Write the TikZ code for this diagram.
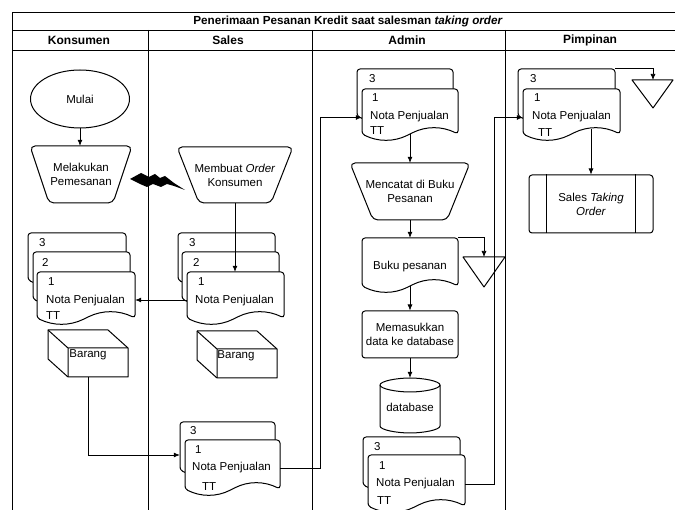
\documentclass[tikz,border=0pt]{standalone}
\usepackage{fontspec}
\setmainfont{Liberation Sans}
\usetikzlibrary{arrows.meta,shapes.geometric,calc}

\tikzset{
  shapesty/.style={draw=black, line width=1pt, fill=white, line join=round},
  docsty/.style={shapesty, rounded corners=3pt},
  arr/.style={draw=black, line width=0.7pt, -{Latex[length=6pt,width=5pt]}},
  lane/.style={draw=black, line width=0.8pt},
  txt/.style={inner sep=0pt, anchor=west},
  hdr/.style={inner sep=0pt, font=\fontsize{12}{14}\selectfont\bfseries},
}

% document shape: name, x0, ytop, x1, ybase
\newcommand\docu[5]{%
  \path[docsty] (#2,#5) -- (#2,#3) -- (#4,#3) -- (#4,#5)
    .. controls ({#4-(#4-#2)/6},{#5-8}) and ({(#2+#4)/2+(#4-#2)/6},{#5-8}) .. ({(#2+#4)/2},#5)
    .. controls ({(#2+#4)/2-(#4-#2)/6},{#5+8}) and ({#2+(#4-#2)/6},{#5+8}) .. (#2,#5) -- cycle;
  \node[inner sep=0pt, minimum width={(#4-#2)*1pt}, minimum height={(#5-#3)*1pt}] (#1) at ({(#2+#4)/2},{(#3+#5)/2}) {};
}
% manual operation: name, cx, ytop, half top, half bottom, ybottom, text
\newcommand\trapz[7]{%
  \path[shapesty, rounded corners=5pt] ({#2-#4},#3) -- ({#2+#4},#3) -- ({#2+#5},#6) -- ({#2-#5},#6) -- cycle;
  \node[inner sep=0pt, align=center, minimum width={2*#5*1pt}, minimum height={(#6-#3)*1pt}] (#1) at (#2,{(#3+#6)/2}) {#7};
}
% cube: name, x0, y0, text x offset
\newcommand\cube[4]{%
  \path[shapesty] (#2,#3) -- ({#2+60},#3) -- ({#2+80},{#3+18}) -- ({#2+80},{#3+47}) -- ({#2+20},{#3+47}) -- (#2,{#3+29}) -- cycle;
  \draw[line width=1pt, line join=round] (#2,#3) -- ({#2+20},{#3+18}) -- ({#2+80},{#3+18}) ({#2+20},{#3+18}) -- ({#2+20},{#3+47});
  \node[inner sep=0pt, minimum width=80pt, minimum height=47pt] (#1) at ({#2+40},{#3+23.5}) {};
  \node[inner sep=0pt] (#1t) at ({#2+#4},{#3+25}) {Barang};
}

\begin{document}
\begin{tikzpicture}[x=1pt, y=-1pt, font=\fontsize{11.5}{14}\selectfont]
\useasboundingbox (0,0) rectangle (675,510);
\fill[white] (0,0) rectangle (675,510);

% ---------- Konsumen ----------
\node[shapesty, ellipse, minimum width=99pt, minimum height=58pt, inner sep=0pt] (mulai) at (80,99) {Mulai};
\trapz{mel}{81}{146}{51}{32}{203}{Melakukan\\Pemesanan}
\fill[black] (130,179) -- (141,173) -- (149,177) -- (155,174) -- (160,178) -- (165,176) -- (174,183) -- (185,190)
  -- (174,186) -- (167,184) -- (161,187) -- (153,184) -- (147,187) -- (140,184) -- cycle;

\docu{k3}{28}{233}{126}{280}
\node[txt] (k3a) at (39,243) {3};
\docu{k2}{33}{252}{130}{299}
\node[txt] (k2a) at (42,262) {2};
\docu{k1}{37}{272}{135}{318}
\node[txt] (k1a) at (48,282) {1};
\node[txt] (k1b) at (46,301) {Nota Penjualan};
\node[txt] (k1c) at (46,316) {TT};
\cube{kb}{48}{330}{40}

% ---------- Sales ----------
\trapz{mem}{235}{147}{58}{36}{203}{Membuat \textit{Order}\\Konsumen}
\docu{s3}{178}{233}{275}{280}
\node[txt] (s3a) at (189,243) {3};
\docu{s2}{182}{252}{279}{299}
\node[txt] (s2a) at (193,262) {2};
\docu{s1}{187}{272}{284}{318}
\node[txt] (s1a) at (198,282) {1};
\node[txt] (s1b) at (195,301) {Nota Penjualan};
\cube{sb}{197}{331}{39}

\docu{sb3}{180}{422}{275}{470}
\node[txt] (sb3a) at (190,431) {3};
\docu{sb1}{185}{440}{280}{489}
\node[txt] (sb1a) at (195,450) {1};
\node[txt] (sb1b) at (192,468) {Nota Penjualan};
\node[txt] (sb1c) at (202,487) {TT};

% ---------- Admin ----------
\docu{a3}{357}{69}{453}{116}
\node[txt] (a3a) at (369,79) {3};
\docu{a1}{362}{89}{458}{134}
\node[txt] (a1a) at (372,98) {1};
\node[txt] (a1b) at (370,117) {Nota Penjualan};
\node[txt] (a1c) at (370,131) {TT};
\trapz{mc}{410}{163}{60}{37}{220}{Mencatat di Buku\\Pesanan}
\docu{bp}{362}{238}{458}{286}
\node[inner sep=0pt] (bpt) at (410,267) {Buku pesanan};
\path[shapesty] (463,257) -- (505,257) -- (484,287) -- cycle;
\coordinate (t1) at (484,257);
\node[shapesty, rounded corners=3pt, minimum width=96pt, minimum height=47pt, inner sep=0pt, align=center] (mm) at (410,334.5) {Memasukkan\\data ke database};
\path[shapesty] (380,385) -- (380,426)
  .. controls (380,429.87) and (396.57,433) .. (410,433)
  .. controls (423.43,433) and (440,429.87) .. (440,426) -- (440,385)
  .. controls (440,381.13) and (423.43,378) .. (410,378)
  .. controls (396.57,378) and (380,381.13) .. (380,385) -- cycle;
\draw[line width=1pt] (380,385) .. controls (380,388.87) and (396.57,392) .. (410,392)
  .. controls (423.43,392) and (440,388.87) .. (440,385);
\node[inner sep=0pt, minimum width=60pt, minimum height=55pt] (db) at (410,405.5) {};
\node[inner sep=0pt] (dbt) at (410,407) {database};
\docu{ab3}{363}{437}{460}{485}
\node[txt] (ab3a) at (374,447) {3};
\docu{ab1}{368}{455}{465}{506}
\node[txt] (ab1a) at (379,466) {1};
\node[txt] (ab1b) at (376,484) {Nota Penjualan};
\node[txt] (ab1c) at (377,501) {TT};

% ---------- Pimpinan ----------
\docu{p3}{518}{69}{615}{116}
\node[txt] (p3a) at (530,79) {3};
\docu{p1}{523}{89}{620}{134}
\node[txt] (p1a) at (534,98) {1};
\node[txt] (p1b) at (532,117) {Nota Penjualan};
\node[txt] (p1c) at (538,133) {TT};
\path[shapesty] (632,80) -- (673,80) -- (653,108) -- cycle;
\coordinate (t2) at (653,80);
\node[shapesty, rounded corners=3pt, minimum width=124pt, minimum height=58pt, inner sep=0pt, align=center] (sto) at (591,204) {Sales \textit{Taking}\\\textit{Order}};
\draw[line width=1pt] ([xshift=18pt]sto.north west) -- ([xshift=18pt]sto.south west);
\draw[line width=1pt] ([xshift=-18pt]sto.north east) -- ([xshift=-18pt]sto.south east);

% ---------- frame ----------
\draw[lane] (12,510) -- (12,12) -- (675,12);
\draw[lane] (12,30) -- (675,30);
\draw[lane] (12,50) -- (675,50);
\draw[lane] (148,30) -- (148,510);
\draw[lane] (312,30) -- (312,510);
\draw[lane] (505,30) -- (505,510);
\node[hdr, font=\fontsize{11.7}{14}\selectfont\bfseries] (title) at (348,21) {Penerimaan Pesanan Kredit saat salesman \textit{taking order}};
\node[hdr] (h1) at (79,40) {Konsumen};
\node[hdr] (h2) at (228,40) {Sales};
\node[hdr] (h3) at (407,40) {Admin};
\node[hdr] (h4) at (590,40) {Pimpinan};

% ---------- connectors ----------
\draw[arr] (mulai.south) -- (mulai.south |- mel.north);
\draw[arr] (mem.south) -- (mem.south |- s1.north);
\draw[arr] ([yshift=-5pt]s1.west) -- ([yshift=-5pt]k1.east);
\draw[arr] (kb.south) |- ([yshift=-9pt]sb3.west);
\draw[arr] ([yshift=-4pt]sb1.east) -- ++(40,0) |- ([yshift=-6pt]a1.west);
\draw[arr] (a1.south) -- (mc.north);
\draw[arr] (mc.south) -- (bp.north);
\draw[arr] (bp.north east) -| (t1);
\draw[arr] (bp.south) -- (mm.north);
\draw[arr] (mm.south) -- (db.north);
\draw[arr] ([yshift=-4pt]ab1.east) -- ++(29,0) |- ([yshift=-6pt]p1.west);
\draw[arr] (p3.north east) -| (t2);
\draw[arr] ($(p1.south -| sto.north)+(0,-5)$) -- (sto.north);
\end{tikzpicture}
\end{document}
